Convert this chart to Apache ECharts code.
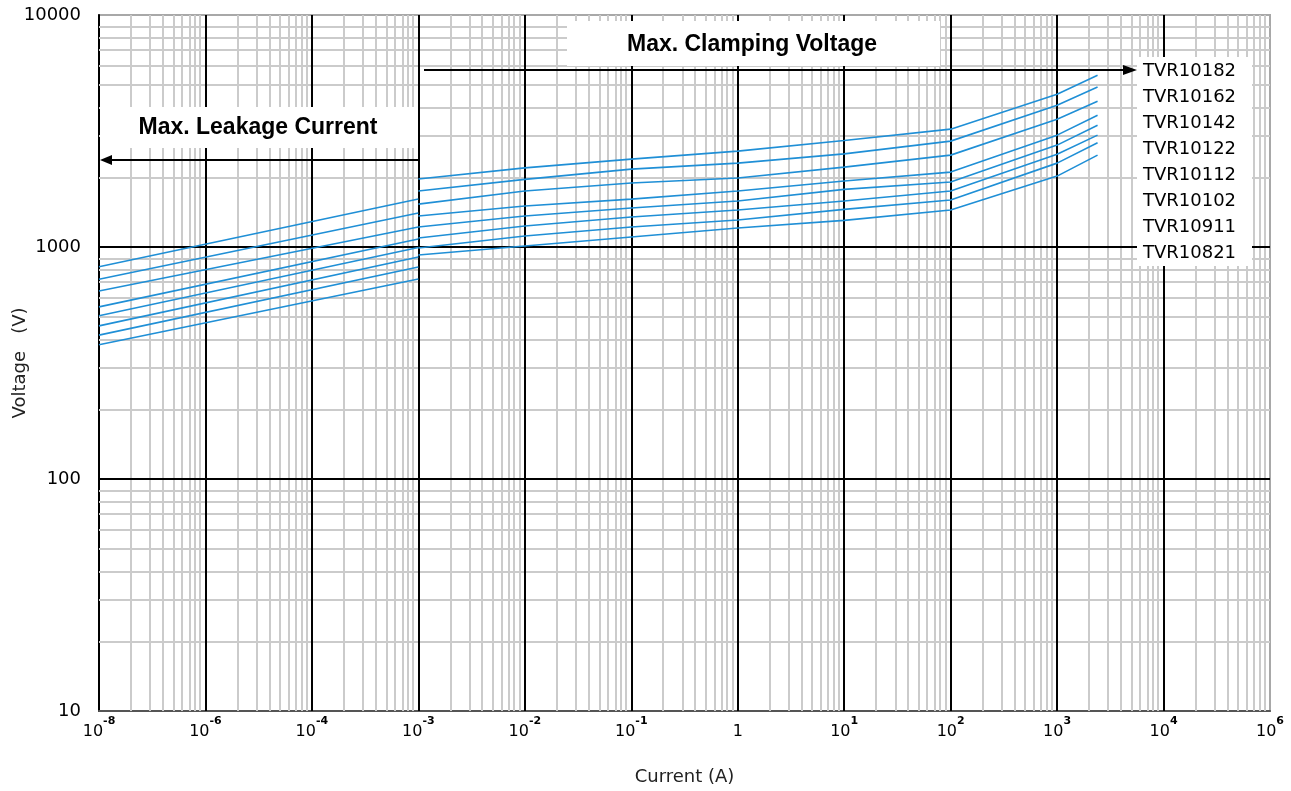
<!DOCTYPE html>
<html>
<head>
<meta charset="utf-8">
<title>TVR10 V-I characteristics</title>
<script src="https://cdn.jsdelivr.net/npm/echarts@6/dist/echarts.min.js"></script>
<style>
    html, body { margin: 0; padding: 0; background: #fff; }
    #chart { width: 1291px; height: 791px; }
</style>
</head>
<body>
<div id="chart"></div>
<script>
// x axis: each major gridline is one label, the spacing is not a regular log scale
var xTickExp = [-8, -6, -4, -3, -2, -1, 0, 1, 2, 3, 4, 6];
var yTickLabels = ['10', '100', '1000', '10000'];

var models = ['TVR10182', 'TVR10162', 'TVR10142', 'TVR10122', 'TVR10112', 'TVR10102', 'TVR10911', 'TVR10821'];

// max. leakage current part (A -> V)
var leakCurrent = [1e-8, 1e-3];
var leakVoltage = [
    [822, 1609],
    [726, 1401],
    [646, 1219],
    [552, 1083],
    [505, 995],
    [457, 906],
    [417, 820],
    [379, 728]
];

// max. clamping voltage part (A -> V)
var clampCurrent = [1e-3, 1e-2, 0.1, 1, 10, 100, 1000, 2400];
var clampVoltage = [
    [1963, 2194, 2392, 2590, 2879, 3221, 4556, 5500],
    [1742, 1956, 2167, 2299, 2521, 2860, 4087, 4898],
    [1531, 1742, 1886, 1982, 2210, 2489, 3556, 4251],
    [1360, 1502, 1609, 1742, 1924, 2103, 3035, 3700],
    [1219, 1360, 1472, 1578, 1772, 1905, 2749, 3351],
    [1093, 1231, 1346, 1443, 1578, 1742, 2513, 3035],
    [990, 1115, 1219, 1307, 1453, 1594, 2299, 2812],
    [924, 1010, 1104, 1207, 1303, 1443, 2021, 2489]
];

var curveColor = '#1f8fd6';

// map a current onto the axis slot (one slot per labelled gridline)
function toSlot(current) {
    var l = Math.log10(current);
    for (var i = 0; i < xTickExp.length - 1; i++) {
        if (l <= xTickExp[i + 1]) {
            return i + (l - xTickExp[i]) / (xTickExp[i + 1] - xTickExp[i]);
        }
    }
    return xTickExp.length - 1;
}

// grid lines: gray inside each decade, black on the decades
var minorLines = [];
var majorLines = [];
for (var s = 0; s < xTickExp.length - 1; s++) {
    for (var k = 2; k <= 9; k++) {
        minorLines.push({ xAxis: s + Math.log10(k) });
    }
    if (s > 0) {
        majorLines.push({ xAxis: s });
    }
}
for (var d = 1; d < yTickLabels.length; d++) {
    for (var k = 2; k <= 9; k++) {
        minorLines.push({ yAxis: d + Math.log10(k) });
    }
    if (d > 1) {
        majorLines.push({ yAxis: d });
    }
}

function gridSeries(lines, color, z) {
    return {
        type: 'line',
        data: [],
        silent: true,
        markLine: {
            silent: true,
            z: z,
            symbol: ['none', 'none'],
            label: { show: false },
            lineStyle: { color: color, width: 2, type: 'solid' },
            emphasis: { disabled: true },
            data: lines
        }
    };
}

var series = [gridSeries(minorLines, '#cbcbcb', 1), gridSeries(majorLines, '#000', 2)];

models.forEach(function (name, i) {
    var style = {
        type: 'line',
        name: name,
        z: 4,
        showSymbol: false,
        silent: true,
        lineStyle: { color: curveColor, width: 1.6 }
    };
    series.push(Object.assign({}, style, {
        data: leakCurrent.map(function (c, j) {
            return [toSlot(c), Math.log10(leakVoltage[i][j])];
        })
    }));
    series.push(Object.assign({}, style, {
        data: clampCurrent.map(function (c, j) {
            return [toSlot(c), Math.log10(clampVoltage[i][j])];
        })
    }));
});

var labelFont = 'DejaVu Sans';
var boldFont = 'Liberation Sans';

var graphics = [
    // max. leakage current box + arrow
    { type: 'rect', shape: { x: 100, y: 107, width: 318, height: 41 }, style: { fill: '#fff' }, z: 100 },
    { type: 'text', x: 258, y: 128, style: { text: 'Max. Leakage Current', font: 'bold 23px ' + boldFont, fill: '#000', align: 'center', verticalAlign: 'middle' }, z: 101 },
    { type: 'line', shape: { x1: 418, y1: 160, x2: 108, y2: 160 }, style: { stroke: '#000', lineWidth: 2 }, z: 101 },
    { type: 'polygon', shape: { points: [[100, 160], [112, 155], [112, 165]] }, style: { fill: '#000' }, z: 101 },
    // max. clamping voltage box + arrow
    { type: 'rect', shape: { x: 567, y: 21, width: 373, height: 45 }, style: { fill: '#fff' }, z: 100 },
    { type: 'text', x: 752, y: 45, style: { text: 'Max. Clamping Voltage', font: 'bold 23px ' + boldFont, fill: '#000', align: 'center', verticalAlign: 'middle' }, z: 101 },
    { type: 'line', shape: { x1: 424, y1: 70, x2: 1126, y2: 70 }, style: { stroke: '#000', lineWidth: 2 }, z: 101 },
    { type: 'polygon', shape: { points: [[1137, 70], [1123, 65], [1123, 75]] }, style: { fill: '#000' }, z: 101 },
    // model labels
    { type: 'rect', shape: { x: 1137, y: 57, width: 115, height: 209 }, style: { fill: '#fff' }, z: 100 }
];
models.forEach(function (name, i) {
    graphics.push({
        type: 'text', x: 1143, y: 71 + i * 26, z: 101,
        style: { text: name, font: '18px ' + labelFont, fill: '#000', align: 'left', verticalAlign: 'middle' }
    });
});

var chart = echarts.init(document.getElementById('chart'));
chart.setOption({
    animation: false,
    backgroundColor: '#fff',
    grid: {
        left: 99, top: 15, width: 1171, height: 696,
        outerBoundsMode: 'none',
        containLabel: false,
        show: true, borderColor: '#a8a8a8', borderWidth: 2, backgroundColor: '#fff'
    },
    xAxis: {
        type: 'value',
        min: 0,
        max: xTickExp.length - 1,
        interval: 1,
        name: 'Current (A)',
        nameLocation: 'middle',
        nameGap: 57,
        nameTextStyle: { fontFamily: labelFont, fontSize: 18, color: '#222' },
        splitLine: { show: false },
        axisTick: { show: false },
        axisLine: { lineStyle: { color: '#555', width: 2 } },
        axisLabel: {
            margin: 5,
            color: '#000',
            formatter: function (v) {
                var e = xTickExp[Math.round(v)];
                return e === 0 ? '{b|1}' : '{b|10}{s|' + e + '}';
            },
            rich: {
                b: { fontFamily: labelFont, fontSize: 16, lineHeight: 24, verticalAlign: 'bottom', color: '#000' },
                s: { fontFamily: labelFont, fontSize: 11, fontWeight: 'bold', lineHeight: 8, verticalAlign: 'top', color: '#000' }
            }
        }
    },
    yAxis: {
        type: 'value',
        min: 1,
        max: yTickLabels.length,
        interval: 1,
        name: 'Voltage   (V)',
        nameLocation: 'middle',
        nameMoveOverlap: false,
        nameGap: 70,
        nameTextStyle: { fontFamily: labelFont, fontSize: 18, color: '#222' },
        splitLine: { show: false },
        axisTick: { show: false },
        axisLine: { lineStyle: { color: '#000', width: 2 } },
        axisLabel: {
            margin: 18,
            color: '#000',
            fontFamily: labelFont,
            fontSize: 18,
            formatter: function (v) {
                return yTickLabels[Math.round(v) - 1];
            }
        }
    },
    graphic: graphics,
    series: series
});
</script>
</body>
</html>
